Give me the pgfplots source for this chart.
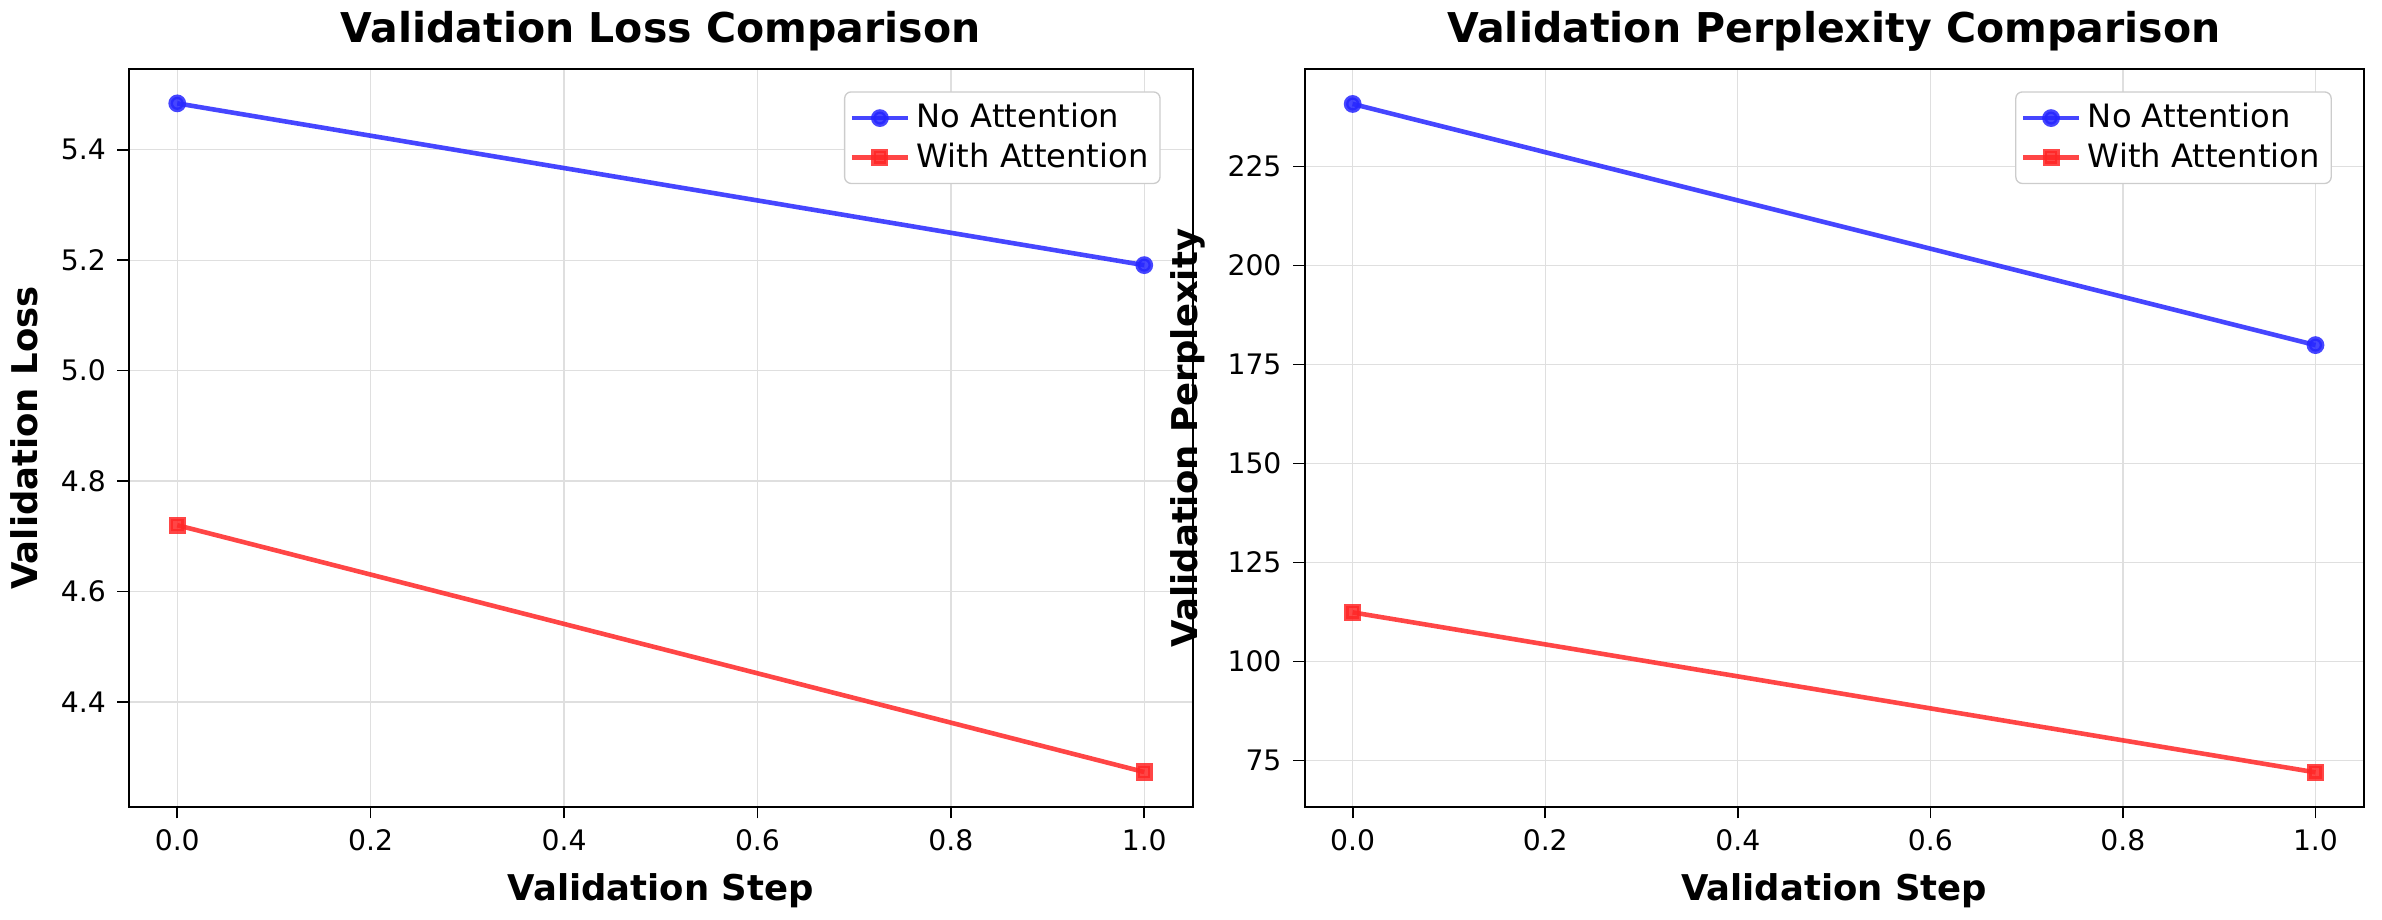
\documentclass[border=0pt]{standalone}
\usepackage{pgfplots}
\pgfplotsset{compat=1.18}
\usepackage{fontspec}
\setmainfont{DejaVu Sans}
\begin{document}
\begin{tikzpicture}
\path (0,0) rectangle (714.6pt,264pt);
\pgfplotsset{
  every axis/.style={scale only axis, height=224.7pt, anchor=south west,
    xmin=-0.05, xmax=1.05, xtick={0,0.2,0.4,0.6,0.8,1.0},
    xticklabel style={/pgf/number format/.cd,fixed,fixed zerofill,precision=1},
    /pgf/number format/assume math mode=true,
    xtick pos=left, ytick pos=left,
    tick label style={font=\fontsize{8.6pt}{10pt}\selectfont},
    label style={font=\fontsize{10.8pt}{12pt}\selectfont\bfseries},
    title style={font=\fontsize{12.5pt}{14pt}\selectfont\bfseries, yshift=-4pt},
    grid=major, grid style={gray!25, line width=0.4pt},
    tick style={black, line width=0.5pt}, tick align=outside, major tick length=3.5pt,
    axis line style={line width=0.6pt},
    xlabel={Validation Step},
    legend pos=north east,
    legend style={font=\fontsize{9.8pt}{11pt}\selectfont, draw=gray!40, rounded corners=2pt, inner sep=1.5pt, row sep=-1pt},
    legend cell align=left,
  },
  blu/.style={color=blue!85!white, opacity=0.85, line width=1.4pt, mark=*, mark size=2pt},
  rd/.style={color=red!85!white, opacity=0.85, line width=1.4pt, mark=square*, mark size=1.9pt},
}
\begin{axis}[at={(28.3pt,24.6pt)}, width=324pt, ymin=4.21, ymax=5.546,
  ytick={4.4,4.6,4.8,5.0,5.2,5.4},
  yticklabel style={/pgf/number format/.cd,fixed,fixed zerofill,precision=1},
  ylabel={Validation Loss}, title={Validation Loss Comparison}]
\addplot[blu] coordinates {(0,5.484) (1,5.191)};
\addlegendentry{No Attention}
\addplot[rd] coordinates {(0,4.720) (1,4.273)};
\addlegendentry{With Attention}
\end{axis}
\begin{axis}[at={(386.4pt,24.6pt)}, width=322.6pt, ymin=63.3, ymax=249.6,
  ytick={75,100,125,150,175,200,225},
  ylabel={Validation Perplexity}, title={Validation Perplexity Comparison}]
\addplot[blu] coordinates {(0,240.8) (1,179.9)};
\addlegendentry{No Attention}
\addplot[rd] coordinates {(0,112.4) (1,72.0)};
\addlegendentry{With Attention}
\end{axis}
\end{tikzpicture}
\end{document}
